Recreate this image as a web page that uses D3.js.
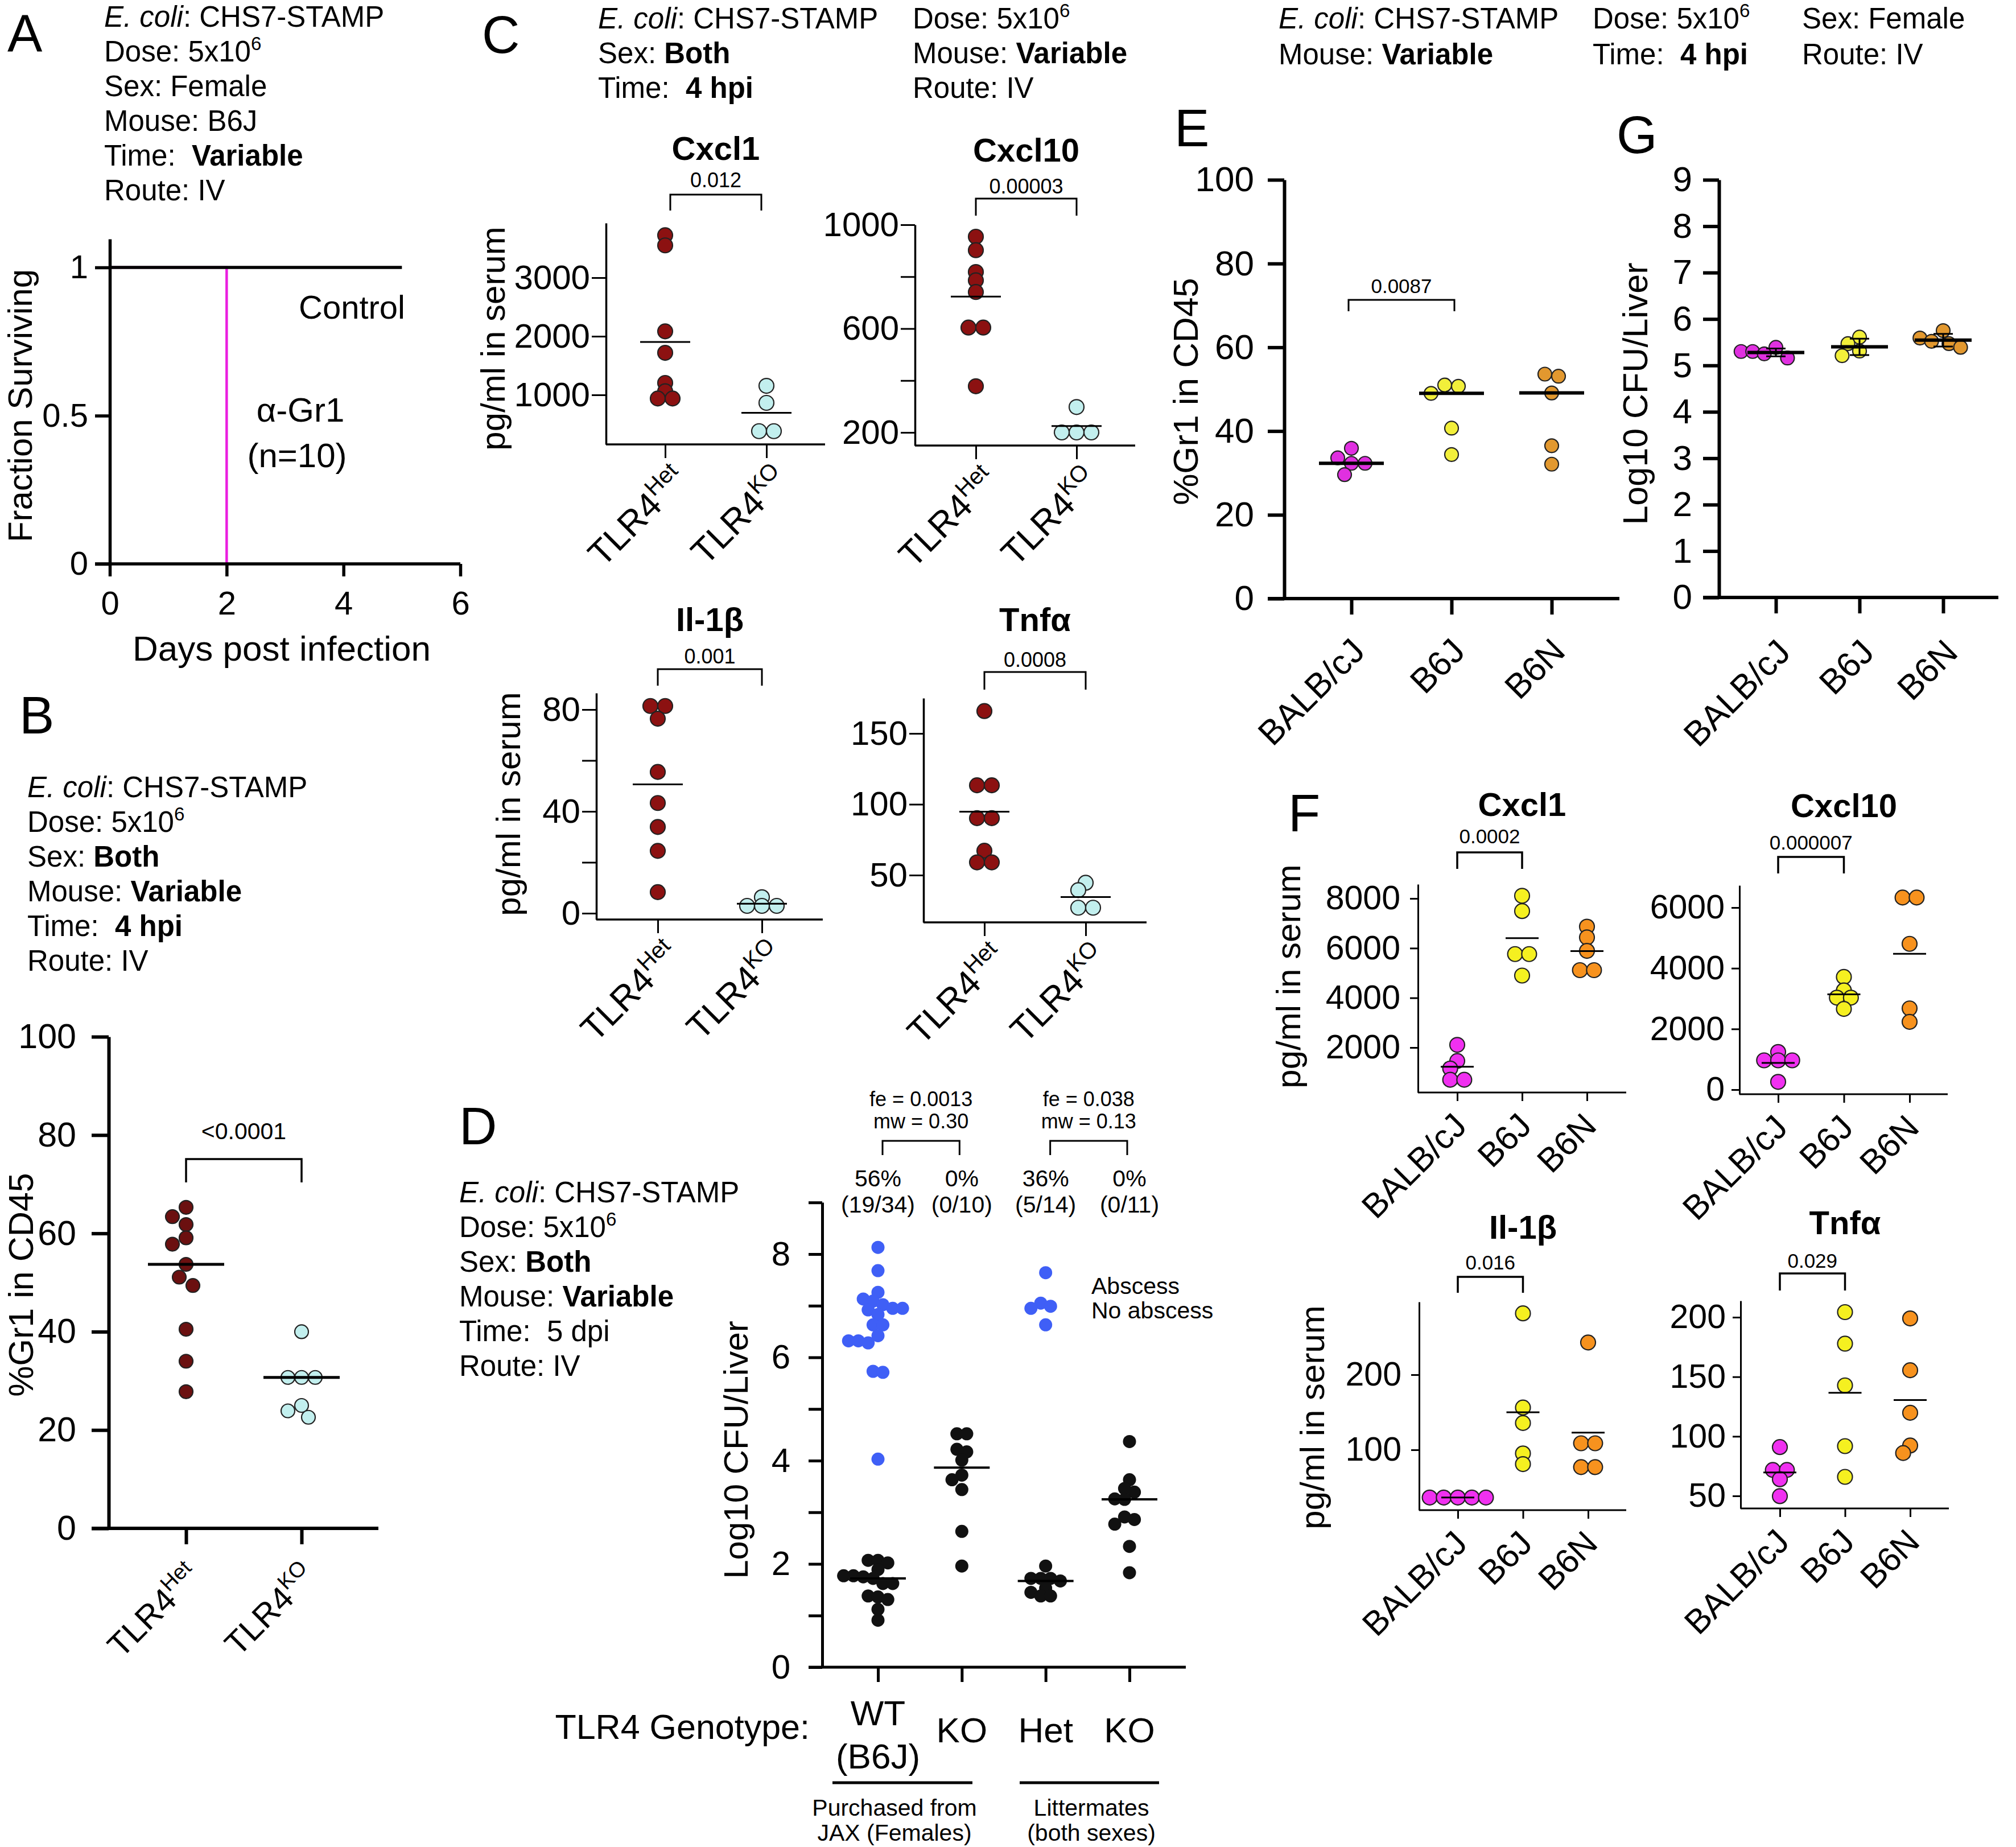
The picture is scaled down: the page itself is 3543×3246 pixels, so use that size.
<!DOCTYPE html>
<html>
<head>
<meta charset="utf-8">
<script src="https://cdn.jsdelivr.net/npm/d3@7"></script>
<style>
  body { margin: 0; background: #fff; }
  svg { display: block; }
  text { font-family: "Liberation Sans", Arial, Helvetica, sans-serif; fill: #000; }
</style>
</head>
<body>
<script>
// ---- data ----

// A: survival (days, fraction surviving)
const aControlDays = [0, 5];
const aControlFrac = [1, 1];
const aGr1Days = [0, 2, 2];
const aGr1Frac = [1, 1, 0];

// B: %Gr1 in CD45
const tlr4Cats = ["Het", "KO"];
const bHet = [65.3, 63.4, 61.8, 59.1, 57.8, 53.7, 51.1, 49.4, 40.5, 34.0, 27.8];
const bKO = [40.0, 30.7, 30.7, 30.7, 25.0, 23.9, 22.6];

// C: cytokines pg/ml (Het, KO)
const cCxcl1Het = [3724, 3551, 2084, 1718, 1204, 1062, 938, 938];
const cCxcl1KO = [1155, 864, 381, 381];
const cCxcl10Het = [954, 902, 818, 786, 741, 604, 604, 378];
const cCxcl10KO = [298, 200, 200, 200];
const cIl1bHet = [81.4, 81.4, 76.4, 55.5, 43.3, 33.9, 24.5, 8.3];
const cIl1bKO = [6.3, 2.9, 2.9, 2.9];
const cTnfHet = [165.8, 113.4, 113.4, 90.2, 90.2, 67.2, 59.0, 59.0];
const cTnfKO = [44.6, 39.4, 27.0, 27.0];

// D: log10 CFU/liver, abscess vs no abscess
const dCats = ["WT", "KO_JAX", "Het", "KO_LM"];
const dWTAbscess = [8.13, 7.68, 7.26, 7.13, 7.09, 7.02, 6.95, 6.95, 6.92, 6.83, 6.63, 6.63, 6.42, 6.32, 6.32, 6.28, 5.73, 5.71, 4.03];
const dWTNone = [2.07, 2.07, 2.02, 1.89, 1.77, 1.77, 1.75, 1.72, 1.62, 1.62, 1.38, 1.36, 1.31, 1.12, 0.91];
const dKOJaxNone = [4.52, 4.52, 4.22, 4.17, 4.01, 3.72, 3.63, 3.44, 2.63, 1.96];
const dHetAbscess = [7.64, 7.05, 6.99, 6.95, 6.63];
const dHetNone = [1.96, 1.72, 1.72, 1.72, 1.67, 1.53, 1.45, 1.38, 1.38];
const dKOLmNone = [4.37, 3.63, 3.46, 3.39, 3.26, 3.25, 2.91, 2.86, 2.77, 2.34, 1.83];
const dStats = [["fe = 0.0013", "mw = 0.30"], ["fe = 0.038", "mw = 0.13"]];

// E / G / F: mouse strains
const strains = ["BALB/cJ", "B6J", "B6N"];
const eGr1 = [[33.6, 29.6, 32.3, 35.9, 32.3], [50.7, 51.0, 49.0, 40.7, 34.4], [53.6, 53.1, 49.1, 36.5, 32.1]];
const gCfu = [[5.25, 5.39, 5.30, 5.30, 5.16], [5.47, 5.61, 5.21, 5.31], [5.75, 5.59, 5.47, 5.52, 5.39]];
const fCxcl1 = [[2108, 1459, 1157, 703, 703], [8108, 7492, 5762, 5762, 4897], [6865, 6432, 5892, 5114, 5114]];
const fCxcl10 = [[1241, 966, 966, 966, 257], [3714, 3271, 3032, 3032, 2660], [6330, 6330, 4805, 2677, 2234]];
const fIl1b = [[36.5, 36.5, 36.5, 36.5, 36.5], [281.7, 156.3, 135.7, 95.2, 81.0], [242.9, 108.7, 108.7, 77.0, 77.0]];
const fTnf = [[91.0, 71.8, 71.8, 64.0, 49.8], [204.3, 177.8, 142.8, 91.8, 66.0], [199.0, 155.5, 119.8, 92.3, 86.0]];

// ---- drawing ----
const W = 3543, H = 3246;
const svg = d3.select("body").append("svg").attr("width", W).attr("height", H);
svg.append("rect").attr("width", W).attr("height", H).attr("fill", "#fff");

const MAGENTA = "#ea1fe0";
const HET_B = "#6b1010", HET_C = "#8c1111", KO_COL = "#c2efee";
const BLUE = "#3f5ff6";
const strainColE = ["#e030e0", "#f2ef3a", "#e2982f"];
const strainColF = ["#f030f0", "#f5f020", "#f7921e"];

function rich(x, y, parts, size, opt = {}) {
  const t = svg.append("text").attr("x", x).attr("y", y).attr("font-size", size)
    .attr("text-anchor", opt.anchor || "start").style("white-space", "pre");
  if (opt.fill) t.attr("fill", opt.fill);
  if (opt.weight) t.attr("font-weight", opt.weight);
  if (opt.rotate != null) t.attr("transform", `rotate(${opt.rotate},${x},${y})`);
  let up = false;
  parts.forEach(p => {
    if (typeof p === "string") p = { t: p };
    const s = t.append("tspan").text(p.t);
    if (p.b) s.attr("font-weight", "bold");
    if (p.i) s.attr("font-style", "italic");
    if (p.sup) {
      s.attr("font-size", size * 0.65);
      if (!up) s.attr("dy", -size * 0.4);
      up = true;
    } else if (up) {
      s.attr("dy", size * 0.4);
      up = false;
    }
  });
  return t;
}

function block(x, y0, step, lines, size) {
  lines.forEach((l, i) => rich(x, y0 + i * step, l, size));
}

function letter(x, y, s) { rich(x, y, [s], 92); }

function styleAxis(g, sw, font) {
  g.attr("font-family", null).attr("font-size", font);
  g.select(".domain").attr("stroke", "#000").attr("stroke-width", sw);
  g.selectAll(".tick line").attr("stroke", "#000").attr("stroke-width", sw);
  g.selectAll(".tick text").attr("fill", "#000");
}

function bracket(x1, x2, y1, y2, sw) {
  svg.append("path").attr("d", `M${x1},${y2}V${y1}H${x2}V${y2}`)
    .attr("fill", "none").attr("stroke", "#000").attr("stroke-width", sw);
}

// simple beeswarm: near-equal values share a row, rows shift sideways to avoid overlap
function swarm(items, y, r, sp, md) {
  const s = sp * r, minD = md * r;
  const sorted = items.slice().sort((a, b) => b.v - a.v);
  const placed = [];
  let i = 0;
  while (i < sorted.length) {
    const bin = [sorted[i]];
    let j = i + 1;
    while (j < sorted.length && Math.abs(y(sorted[j].v) - y(sorted[i].v)) < r * 0.6) { bin.push(sorted[j]); j++; }
    const base = bin.map((d, k) => (k - (bin.length - 1) / 2) * s);
    let best = null;
    for (let step = 0; step < 60 && best === null; step++) {
      const cands = step === 0 ? [0] : [-step * s / 2, step * s / 2];
      for (const sh of cands) {
        const ok = bin.every((d, k) => placed.every(p =>
          Math.hypot(p.dx - (base[k] + sh), y(p.v) - y(d.v)) >= minD));
        if (ok) { best = sh; break; }
      }
    }
    bin.forEach((d, k) => placed.push(Object.assign({}, d, { dx: base[k] + best })));
    i = j;
  }
  return placed;
}

function dotPanel(c) {
  const y = d3.scaleLinear().domain([c.yRef[0][0], c.yRef[1][0]]).range([c.yRef[0][1], c.yRef[1][1]]);
  y.domain([y.invert(c.bottom), y.invert(c.top)]).range([c.bottom, c.top]);
  const x = d3.scalePoint().domain(c.cats).range(c.catX);
  const labelled = c.yLabels || c.yTicks;

  const gy = svg.append("g").attr("transform", `translate(${c.left},0)`)
    .call(d3.axisLeft(y).tickValues(c.yTicks).tickSize(c.yTick).tickSizeOuter(0)
      .tickPadding(c.pad).tickFormat(d => labelled.includes(d) ? String(d) : ""));
  styleAxis(gy, c.sw, c.font);
  if (c.tickSw) gy.selectAll(".tick line").attr("stroke-width", c.tickSw);

  const gx = svg.append("g").attr("transform", `translate(0,${c.bottom})`)
    .call(d3.axisBottom(x).tickSize(c.xTick).tickSizeOuter(0).tickFormat(() => ""));
  styleAxis(gx, c.sw, c.font);
  if (c.tickSw) gx.selectAll(".tick line").attr("stroke-width", c.tickSw);
  gx.select(".domain").attr("d", `M${c.xStart},0H${c.xEnd}`);

  c.groups.forEach((items, gi) => {
    const cx = x(c.cats[gi]);
    const pts = swarm(items, y, c.r, c.sp || 2, c.md || 1.9);
    svg.append("g").selectAll("circle").data(pts).join("circle")
      .attr("cx", d => cx + d.dx).attr("cy", d => y(d.v)).attr("r", c.r)
      .attr("fill", d => c.color(gi, d))
      .attr("stroke", c.noStroke ? "none" : "#222").attr("stroke-width", 2.2);
    const vals = items.filter(d => !d.abs).map(d => d.v);
    if (c.stat && vals.length) {
      const m = c.stat(vals);
      svg.append("line").attr("x1", cx - c.half).attr("x2", cx + c.half)
        .attr("y1", y(m)).attr("y2", y(m)).attr("stroke", "#000").attr("stroke-width", c.lw);
      if (c.sd) {
        const sd = d3.deviation(vals);
        svg.append("path")
          .attr("d", `M${cx - 17},${y(m + sd)}H${cx + 17}M${cx},${y(m + sd)}V${y(m - sd)}M${cx - 17},${y(m - sd)}H${cx + 17}`)
          .attr("fill", "none").attr("stroke", "#000").attr("stroke-width", 3);
      }
    }
  });

  if (c.catLabel) {
    c.cats.forEach((cat, i) => rich(x(cat) + c.catLabel.dx, c.bottom + c.catLabel.dy,
      c.catLabel.parts(cat, i), c.catLabel.size, { anchor: "end", rotate: -45 }));
  }
  if (c.title) rich((c.catX[0] + c.catX[1]) / 2, c.title.y, [c.title.t], 58, { anchor: "middle", weight: "bold" });
  if (c.yTitle) rich(c.yTitle.x, c.yTitle.y, [c.yTitle.t], c.yTitle.size, { anchor: "middle", rotate: -90 });
  if (c.bracket) {
    const b = c.bracket;
    const x1 = x(c.cats[0]) + (b.o || 0), x2 = x(c.cats[1]) - (b.o || 0);
    bracket(x1, x2, b.y1, b.y2, b.sw);
    rich((x1 + x2) / 2, b.ly, [b.label], b.size, { anchor: "middle" });
  }
  return { x, y };
}

const asItems = arr => arr.map(v => ({ v }));

// ================= Panel A =================
letter(13, 91, "A");
block(183, 47, 61, [
  [{ t: "E. coli", i: 1 }, ": CHS7-STAMP"],
  ["Dose: 5x10", { t: "6", sup: 1 }],
  ["Sex: Female"],
  ["Mouse: B6J"],
  ["Time:  ", { t: "Variable", b: 1 }],
  ["Route: IV"]
], 51);
{
  const x = d3.scaleLinear().domain([0, 6]).range([193, 809]);
  const y = d3.scaleLinear().domain([0, 1]).range([991, 470]);
  y.domain([0, y.invert(420)]).range([991, 420]);
  const line = d3.line().x(d => x(d[0])).y(d => y(d[1]));
  svg.append("path").attr("d", line(d3.zip(aGr1Days, aGr1Frac)))
    .attr("fill", "none").attr("stroke", MAGENTA).attr("stroke-width", 4.5);
  svg.append("path").attr("d", line(d3.zip(aControlDays, aControlFrac)))
    .attr("fill", "none").attr("stroke", "#000").attr("stroke-width", 5.5);
  const gy = svg.append("g").attr("transform", "translate(193,0)")
    .call(d3.axisLeft(y).tickValues([0, 0.5, 1]).tickSize(26).tickSizeOuter(0).tickPadding(12).tickFormat(d => String(d)));
  styleAxis(gy, 5.5, 58);
  const gx = svg.append("g").attr("transform", "translate(0,991)")
    .call(d3.axisBottom(x).tickValues([0, 2, 4, 6]).tickSize(22).tickSizeOuter(0).tickPadding(26).tickFormat(d => String(d)));
  styleAxis(gx, 5.5, 58);
  gx.select(".domain").attr("d", "M167,0H809");
  rich(712, 560, ["Control"], 58, { anchor: "end" });
  rich(528, 741, ["\u03b1-Gr1"], 60, { anchor: "middle", fill: MAGENTA });
  rich(522, 821, ["(n=10)"], 60, { anchor: "middle", fill: MAGENTA });
  rich(495, 1161, ["Days post infection"], 62, { anchor: "middle" });
  rich(56, 713, ["Fraction Surviving"], 60, { anchor: "middle", rotate: -90 });
}

// ================= Panel B =================
letter(34, 1289, "B");
block(48, 1401, 61, [
  [{ t: "E. coli", i: 1 }, ": CHS7-STAMP"],
  ["Dose: 5x10", { t: "6", sup: 1 }],
  ["Sex: ", { t: "Both", b: 1 }],
  ["Mouse: ", { t: "Variable", b: 1 }],
  ["Time:  ", { t: "4 hpi", b: 1 }],
  ["Route: IV"]
], 51);
dotPanel({
  cats: tlr4Cats, catX: [327, 530], left: 191, bottom: 2686, top: 1822,
  yRef: [[0, 2686], [100, 1822]], yTicks: [0, 20, 40, 60, 80, 100], yTick: 30, pad: 27,
  xStart: 161, xEnd: 665, xTick: 28, sw: 6, font: 61,
  groups: [asItems(bHet), asItems(bKO)], color: gi => [HET_B, KO_COL][gi],
  r: 12, stat: d3.median, half: 67, lw: 5,
  catLabel: { dx: 28, dy: 88, size: 58, parts: c => ["TLR4", { t: c, sup: 1 }] },
  yTitle: { x: 58, y: 2258, t: "%Gr1 in CD45", size: 61 },
  bracket: { y1: 2037, y2: 2078, ly: 2002, label: "<0.0001", size: 41, sw: 3.5 }
});

// ================= Panel C =================
letter(847, 93, "C");
block(1051, 50, 61, [
  [{ t: "E. coli", i: 1 }, ": CHS7-STAMP"],
  ["Sex: ", { t: "Both", b: 1 }],
  ["Time:  ", { t: "4 hpi", b: 1 }]
], 51);
block(1604, 50, 61, [
  ["Dose: 5x10", { t: "6", sup: 1 }],
  ["Mouse: ", { t: "Variable", b: 1 }],
  ["Route: IV"]
], 51);
const cLab = { dx: 42, dy: 66, size: 62, parts: c => ["TLR4", { t: c, sup: 1 }] };
const cCommon = { cats: tlr4Cats, color: gi => [HET_C, KO_COL][gi], r: 13, sp: 2, md: 1.1,
  stat: d3.mean, half: 44, lw: 3, sw: 3.5, tickSw: 3, font: 60, yTick: 25, xTick: 24, pad: 3, catLabel: cLab };
dotPanel(Object.assign({}, cCommon, {
  catX: [1169, 1347], left: 1065, bottom: 781, top: 392, yRef: [[1000, 694], [3000, 488]],
  yTicks: [1000, 2000, 3000], xStart: 1065, xEnd: 1450,
  groups: [asItems(cCxcl1Het), asItems(cCxcl1KO)],
  title: { t: "Cxcl1", y: 281 }, yTitle: { x: 887, y: 595, t: "pg/ml in serum", size: 60 },
  bracket: { y1: 342, y2: 370, ly: 329, label: "0.012", size: 36, sw: 3, o: 9 }
}));
dotPanel(Object.assign({}, cCommon, {
  catX: [1715, 1892], left: 1608, bottom: 783, top: 395, yRef: [[200, 760], [1000, 395]],
  yTicks: [200, 400, 600, 800, 1000], yLabels: [200, 600, 1000], xStart: 1608, xEnd: 1995,
  groups: [asItems(cCxcl10Het), asItems(cCxcl10KO)],
  title: { t: "Cxcl10", y: 284 },
  bracket: { y1: 349, y2: 379, ly: 340, label: "0.00003", size: 36, sw: 3, o: 0 }
}));
dotPanel(Object.assign({}, cCommon, {
  catX: [1156, 1339], left: 1048, bottom: 1616, top: 1218, yRef: [[0, 1605], [80, 1247]],
  yTicks: [0, 20, 40, 60, 80], yLabels: [0, 40, 80], xStart: 1048, xEnd: 1446,
  groups: [asItems(cIl1bHet), asItems(cIl1bKO)],
  title: { t: "Il-1\u03b2", y: 1109 }, yTitle: { x: 914, y: 1413, t: "pg/ml in serum", size: 60 },
  bracket: { y1: 1176, y2: 1205, ly: 1166, label: "0.001", size: 36, sw: 3, o: 0 }
}));
dotPanel(Object.assign({}, cCommon, {
  catX: [1730, 1908], left: 1623, bottom: 1621, top: 1227, yRef: [[50, 1538], [150, 1289]],
  yTicks: [50, 100, 150], xStart: 1623, xEnd: 2015,
  groups: [asItems(cTnfHet), asItems(cTnfKO)],
  title: { t: "Tnf\u03b1", y: 1109 },
  bracket: { y1: 1181, y2: 1212, ly: 1172, label: "0.0008", size: 36, sw: 3, o: 0 }
}));

// ================= Panel D =================
letter(807, 2011, "D");
block(807, 2113, 61, [
  [{ t: "E. coli", i: 1 }, ": CHS7-STAMP"],
  ["Dose: 5x10", { t: "6", sup: 1 }],
  ["Sex: ", { t: "Both", b: 1 }],
  ["Mouse: ", { t: "Variable", b: 1 }],
  ["Time:  5 dpi"],
  ["Route: IV"]
], 51);
{
  const withFlag = (a, abs) => a.map(v => ({ v, abs }));
  const groups = [
    withFlag(dWTAbscess, true).concat(withFlag(dWTNone, false)),
    withFlag(dKOJaxNone, false),
    withFlag(dHetAbscess, true).concat(withFlag(dHetNone, false)),
    withFlag(dKOLmNone, false)
  ];
  const { x } = dotPanel({
    cats: dCats, catX: [1543, 1985], left: 1445, bottom: 2930, top: 2113,
    yRef: [[0, 2930], [8, 2204]], yTicks: d3.range(0, 10), yLabels: [0, 2, 4, 6, 8], yTick: 24, pad: 32,
    xStart: 1421, xEnd: 2084, xTick: 26, sw: 5, font: 60,
    groups, color: (gi, d) => d.abs ? BLUE : "#111", noStroke: true,
    r: 11.5, sp: 1.5, md: 1.35, stat: d3.median, half: 49, lw: 4,
    yTitle: { x: 1314, y: 2548, t: "Log10 CFU/Liver", size: 60 }
  });
  groups.forEach((g, i) => {
    const n = g.filter(d => d.abs).length;
    rich(x(dCats[i]), 2085, [Math.round(100 * n / g.length) + "%"], 41, { anchor: "middle" });
    rich(x(dCats[i]), 2131, [`(${n}/${g.length})`], 41, { anchor: "middle" });
  });
  [[0, 1], [2, 3]].forEach((p, k) => {
    const x1 = x(dCats[p[0]]) + 8, x2 = x(dCats[p[1]]) - 4;
    bracket(x1, x2, 2005, 2030, 3);
    rich((x1 + x2) / 2, 1944, [dStats[k][0]], 36, { anchor: "middle" });
    rich((x1 + x2) / 2, 1983, [dStats[k][1]], 36, { anchor: "middle" });
  });
  rich(1918, 2274, ["Abscess"], 41, { fill: BLUE });
  rich(1918, 2317, ["No abscess"], 41);
  rich(1423, 3056, ["TLR4 Genotype:"], 61, { anchor: "end" });
  rich(x("WT"), 3032, ["WT"], 62, { anchor: "middle" });
  rich(x("WT"), 3108, ["(B6J)"], 62, { anchor: "middle" });
  rich(x("KO_JAX"), 3062, ["KO"], 62, { anchor: "middle" });
  rich(x("Het"), 3062, ["Het"], 62, { anchor: "middle" });
  rich(x("KO_LM"), 3062, ["KO"], 62, { anchor: "middle" });
  svg.append("path").attr("d", "M1463,3133H1709M1792,3133H2037").attr("stroke", "#000").attr("stroke-width", 5);
  rich(1572, 3191, ["Purchased from"], 41, { anchor: "middle" });
  rich(1572, 3235, ["JAX (Females)"], 41, { anchor: "middle" });
  rich(1918, 3191, ["Littermates"], 41, { anchor: "middle" });
  rich(1918, 3235, ["(both sexes)"], 41, { anchor: "middle" });
}

// ================= Header E/F/G =================
block(2247, 50, 63, [[{ t: "E. coli", i: 1 }, ": CHS7-STAMP"], ["Mouse: ", { t: "Variable", b: 1 }]], 51);
block(2799, 50, 63, [["Dose: 5x10", { t: "6", sup: 1 }], ["Time:  ", { t: "4 hpi", b: 1 }]], 51);
block(3167, 50, 63, [["Sex: Female"], ["Route: IV"]], 51);

const strainLab = (dx, dy, size) => ({ dx, dy, size, parts: c => [c] });

// ================= Panel E =================
letter(2064, 257, "E");
dotPanel({
  cats: strains, catX: [2375, 2727], left: 2257, bottom: 1052, top: 316,
  yRef: [[0, 1052], [100, 316]], yTicks: [0, 20, 40, 60, 80, 100], yTick: 29, pad: 24,
  xStart: 2228, xEnd: 2846, xTick: 28, sw: 6, font: 62,
  groups: eGr1.map(asItems), color: gi => strainColE[gi],
  r: 12, stat: d3.median, half: 57, lw: 6,
  catLabel: strainLab(27, 96, 61),
  yTitle: { x: 2105, y: 688, t: "%Gr1 in CD45", size: 62 },
  bracket: { y1: 527, y2: 547, ly: 515, label: "0.0087", size: 35, sw: 3, o: -5 }
});

// ================= Panel G =================
letter(2841, 269, "G");
dotPanel({
  cats: strains, catX: [3121, 3415], left: 3021, bottom: 1050, top: 316,
  yRef: [[0, 1050], [9, 316]], yTicks: d3.range(0, 10), yTick: 28, pad: 19,
  xStart: 2993, xEnd: 3512, xTick: 28, sw: 6, font: 62,
  groups: gCfu.map(asItems), color: gi => strainColE[gi],
  r: 12, sp: 1.7, stat: d3.mean, half: 50, lw: 6, sd: true,
  catLabel: strainLab(29, 100, 61),
  yTitle: { x: 2895, y: 692, t: "Log10 CFU/Liver", size: 61 }
});

// ================= Panel F =================
letter(2264, 1461, "F");
const fCommon = { cats: strains, color: gi => strainColF[gi], r: 13, sp: 1.9, md: 1.1, stat: d3.mean, half: 29, lw: 3,
  sw: 3, font: 59, yTick: 14, xTick: 15, catLabel: strainLab(20, 62, 60) };
dotPanel(Object.assign({}, fCommon, {
  catX: [2561, 2789], left: 2492, bottom: 1920, top: 1554, yRef: [[2000, 1841], [8000, 1579]],
  yTicks: [2000, 4000, 6000, 8000], pad: 17, xStart: 2492, xEnd: 2858,
  groups: fCxcl1.map(asItems), title: { t: "Cxcl1", y: 1434 },
  yTitle: { x: 2285, y: 1716, t: "pg/ml in serum", size: 60 },
  bracket: { y1: 1498, y2: 1527, ly: 1482, label: "0.0002", size: 35, sw: 3.5, o: 0 }
}));
dotPanel(Object.assign({}, fCommon, {
  catX: [3125, 3356], left: 3057, bottom: 1923, top: 1556, yRef: [[0, 1915], [6000, 1595]],
  yTicks: [0, 2000, 4000, 6000], pad: 12, xStart: 3057, xEnd: 3423,
  groups: fCxcl10.map(asItems), title: { t: "Cxcl10", y: 1436 },
  bracket: { y1: 1506, y2: 1535, ly: 1493, label: "0.000007", size: 35, sw: 3.5, o: 0 }
}));
dotPanel(Object.assign({}, fCommon, {
  catX: [2562, 2791], left: 2494, bottom: 2654, top: 2288, yRef: [[100, 2548], [200, 2416]],
  yTicks: [100, 200], pad: 17, xStart: 2494, xEnd: 2858,
  groups: fIl1b.map(asItems), title: { t: "Il-1\u03b2", y: 2177 },
  yTitle: { x: 2327, y: 2491, t: "pg/ml in serum", size: 60 },
  bracket: { y1: 2244, y2: 2272, ly: 2231, label: "0.016", size: 35, sw: 3.5, o: 0 }
}));
dotPanel(Object.assign({}, fCommon, {
  catX: [3128, 3357], left: 3059, bottom: 2651, top: 2286, yRef: [[50, 2629], [200, 2315]],
  yTicks: [50, 100, 150, 200], pad: 12, xStart: 3059, xEnd: 3425,
  groups: fTnf.map(asItems), title: { t: "Tnf\u03b1", y: 2169 },
  bracket: { y1: 2238, y2: 2268, ly: 2228, label: "0.029", size: 35, sw: 3.5, o: 0 }
}));
</script>
</body>
</html>
